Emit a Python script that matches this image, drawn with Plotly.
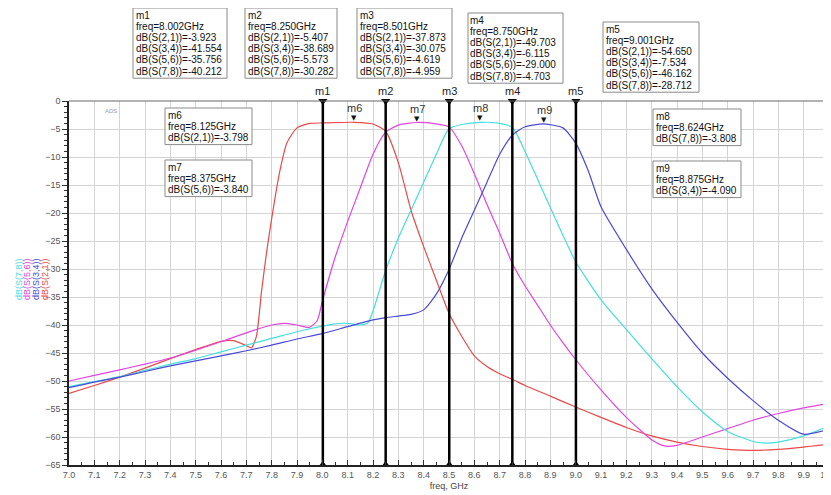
import plotly.graph_objects as go

# ---------------- data ----------------
freq_s21 = [7.0, 7.1, 7.2, 7.3, 7.4, 7.5, 7.6, 7.65, 7.7, 7.72, 7.74, 7.76, 7.78, 7.8, 7.83, 7.86,
            7.9, 7.95, 8.0, 8.125, 8.2, 8.25, 8.3, 8.35, 8.4, 8.45, 8.5, 8.55, 8.6, 8.65, 8.7, 8.75,
            8.8, 8.9, 9.0, 9.1, 9.2, 9.3, 9.4, 9.5, 9.6, 9.7, 9.8, 9.9, 10.0]
s21 = [-52.2, -50.8, -49.3, -47.7, -46.0, -44.4, -42.9, -42.8, -43.7, -44.1, -42.0, -34.0, -27.0, -21.0,
       -13.0, -7.5, -4.8, -4.0, -3.92, -3.80, -4.1, -5.4, -11.0, -19.5, -26.0, -32.0, -37.9, -42.0,
       -45.5, -47.4, -48.7, -49.7, -50.8, -52.7, -54.65, -56.5, -58.3, -59.8, -60.9, -61.7, -62.2,
       -62.4, -62.2, -61.8, -61.3]

freq_s56 = [7.0, 7.1, 7.2, 7.3, 7.4, 7.5, 7.6, 7.7, 7.8, 7.85, 7.9, 7.95, 7.98, 8.0, 8.05, 8.1, 8.15,
            8.2, 8.25, 8.3, 8.375, 8.45, 8.5, 8.55, 8.6, 8.65, 8.7, 8.75, 8.8, 8.85, 8.9, 8.95, 9.0,
            9.1, 9.2, 9.3, 9.35, 9.4, 9.5, 9.6, 9.7, 9.8, 9.9, 10.0]
s56 = [-50.0, -49.0, -48.0, -47.0, -45.9, -44.5, -43.0, -41.4, -40.0, -39.7, -40.0, -40.4, -39.2,
       -35.76, -28.0, -21.5, -15.5, -9.5, -5.57, -4.3, -3.84, -4.1, -4.62, -8.0, -13.0, -18.5, -23.6,
       -29.0, -33.0, -36.5, -40.0, -43.2, -46.16, -51.6, -56.5, -60.5, -61.6, -61.5, -60.0, -58.5,
       -57.0, -55.8, -54.8, -54.0]

freq_s78 = [7.0, 7.1, 7.2, 7.3, 7.4, 7.5, 7.6, 7.7, 7.8, 7.9, 8.0, 8.05, 8.1, 8.15, 8.18, 8.2, 8.25,
            8.3, 8.35, 8.4, 8.45, 8.5, 8.55, 8.624, 8.7, 8.75, 8.8, 8.85, 8.9, 8.95, 9.0, 9.1, 9.2,
            9.3, 9.4, 9.5, 9.6, 9.7, 9.75, 9.8, 9.9, 10.0]
s78 = [-51.0, -50.1, -49.2, -48.1, -47.0, -46.0, -44.8, -43.6, -42.4, -41.2, -40.21, -39.8, -39.7,
       -40.0, -39.6, -37.5, -30.28, -24.5, -19.5, -14.5, -9.5, -4.96, -4.2, -3.81, -4.0, -4.70,
       -9.0, -14.0, -19.0, -24.0, -28.71, -35.5, -40.8, -46.0, -51.0, -55.5, -59.0, -60.8, -61.1,
       -60.9, -59.8, -58.0]

freq_s34 = [7.0, 7.1, 7.2, 7.3, 7.4, 7.5, 7.6, 7.7, 7.8, 7.9, 8.0, 8.1, 8.2, 8.25, 8.3, 8.35, 8.4,
            8.45, 8.5, 8.55, 8.6, 8.65, 8.7, 8.75, 8.8, 8.875, 8.95, 9.0, 9.05, 9.1, 9.2, 9.3, 9.4,
            9.5, 9.6, 9.7, 9.8, 9.9, 10.0]
s34 = [-51.2, -50.2, -49.3, -48.3, -47.3, -46.4, -45.5, -44.6, -43.6, -42.5, -41.55, -40.3, -39.1,
       -38.69, -38.4, -38.1, -37.3, -34.5, -30.08, -24.5, -19.5, -14.5, -9.5, -6.12, -4.6, -4.09,
       -4.8, -7.53, -12.5, -18.9, -26.5, -33.5, -39.5, -45.0, -49.5, -53.5, -57.0, -59.5, -58.6]

# vertical markers m1..m5
vm_names = ["m1", "m2", "m3", "m4", "m5"]
vm_freq = [8.002, 8.250, 8.501, 8.750, 9.001]
vm_s21 = [-3.923, -5.407, -37.873, -49.703, -54.650]
vm_s34 = [-41.554, -38.689, -30.075, -6.115, -7.534]
vm_s56 = [-35.756, -5.573, -4.619, -29.000, -46.162]
vm_s78 = [-40.212, -30.282, -4.959, -4.703, -28.712]

# point markers m6..m9
pm_names = ["m6", "m7", "m8", "m9"]
pm_freq = [8.125, 8.375, 8.624, 8.875]
pm_val = [-3.798, -3.840, -3.808, -4.090]
pm_trace = ["dB(S(2,1))", "dB(S(5,6))", "dB(S(7,8))", "dB(S(3,4))"]

# ---------------- style / layout ----------------
vm_box_px = [(133, 8, 94), (245, 8, 92), (357, 8, 95), (468, 13, 95), (603, 22, 96)]
pm_box_px = [(165, 108, 87), (165, 160, 87), (653, 109, 88), (653, 161, 88)]
LINE_PITCH = 11.2

OFF = 8                       # page body margin of the html
W, H = 831 - OFF, 495 - OFF
PL, PR, PT, PB = 69, 829, 101, 465   # plot area in window pixels
L, T = PL - OFF, PT - OFF
R = W - (PR - OFF)
B = H - (PB - OFF)
PW, PH = PR - PL, PB - PT
col = {"dB(S(2,1))": "#e84a4a", "dB(S(5,6))": "#e045e0",
       "dB(S(3,4))": "#4a4ad6", "dB(S(7,8))": "#45dede"}
FONT = "Arial, Liberation Sans, sans-serif"
BOXFONT = dict(size=10, color="#111", family=FONT)


def px2paper(x, y):
    return (x - PL) / PW, (PB - y) / PH


fig = go.Figure()
for name, fx, fy in [("dB(S(2,1))", freq_s21, s21), ("dB(S(5,6))", freq_s56, s56),
                     ("dB(S(7,8))", freq_s78, s78), ("dB(S(3,4))", freq_s34, s34)]:
    fig.add_trace(go.Scatter(x=fx, y=fy, mode="lines", name=name,
                             line=dict(color=col[name], width=1.2, shape="spline", smoothing=0.6),
                             showlegend=False, hoverinfo="skip"))

# vertical marker lines
for f in vm_freq:
    fig.add_trace(go.Scatter(x=[f, f], y=[0, -65], mode="lines",
                             line=dict(color="black", width=2.5), showlegend=False,
                             hoverinfo="skip"))
fig.add_trace(go.Scatter(x=vm_freq, y=[0] * len(vm_freq), mode="markers", cliponaxis=False,
                         marker=dict(symbol="triangle-down", size=8, color="black"),
                         showlegend=False, hoverinfo="skip"))
fig.add_trace(go.Scatter(x=vm_freq, y=[-65] * len(vm_freq), mode="markers", cliponaxis=False,
                         marker=dict(symbol="triangle-up", size=8, color="black"),
                         showlegend=False, hoverinfo="skip"))

ann = []
shapes = [dict(type="line", xref="paper", yref="paper", x0=0, x1=1, y0=1, y1=1,
               line=dict(color="#666", width=1))]

for n, f in zip(vm_names, vm_freq):
    ann.append(dict(x=f, y=0, xref="x", yref="y", text=n, showarrow=False, yshift=10,
                    font=dict(size=11, color="#222", family=FONT)))

for n, f, v in zip(pm_names, pm_freq, pm_val):
    ann.append(dict(x=f, y=v, xref="x", yref="y", text="▼", showarrow=False, yshift=4,
                    font=dict(size=7, color="#111", family="DejaVu Sans")))
    ann.append(dict(x=f, y=v, xref="x", yref="y", text=n, showarrow=False, yshift=14,
                    font=dict(size=11, color="#333", family=FONT)))


def add_box(lines, x0, y0, w):
    h = len(lines) * LINE_PITCH + 3
    ax0, ay0 = px2paper(x0, y0)
    ax1, ay1 = px2paper(x0 + w, y0 + h)
    shapes.append(dict(type="rect", xref="paper", yref="paper", x0=ax0, x1=ax1, y0=ay1, y1=ay0,
                       line=dict(color="#8a8a8a", width=1), fillcolor="white", layer="above"))
    for i, t in enumerate(lines):
        xp, yp = px2paper(x0 + 1.5, y0 + 1.5 + (i + 0.5) * LINE_PITCH)
        ann.append(dict(x=xp, y=yp, xref="paper", yref="paper", xanchor="left",
                        yanchor="middle", text=t, showarrow=False, font=BOXFONT,
                        borderpad=0))


for i, n in enumerate(vm_names):
    lines = [n, f"freq={vm_freq[i]:.3f}GHz",
             f"dB(S(2,1))={vm_s21[i]:.3f}", f"dB(S(3,4))={vm_s34[i]:.3f}",
             f"dB(S(5,6))={vm_s56[i]:.3f}", f"dB(S(7,8))={vm_s78[i]:.3f}"]
    add_box(lines, *vm_box_px[i])
for i, n in enumerate(pm_names):
    lines = [n, f"freq={pm_freq[i]:.3f}GHz", f"{pm_trace[i]}={pm_val[i]:.3f}"]
    add_box(lines, *pm_box_px[i])

# rotated legend labels
for name, xpx in [("dB(S(7,8))", 12), ("dB(S(5,6))", 20), ("dB(S(3,4))", 29), ("dB(S(2,1))", 38)]:
    xp, yp = px2paper(xpx, 279)
    ann.append(dict(x=xp, y=yp, xref="paper", yref="paper", text=name, textangle=-90,
                    showarrow=False, font=dict(size=9, color=col[name], family=FONT)))

xp, yp = px2paper(103, 106)
ann.append(dict(x=xp, y=yp, xref="paper", yref="paper", text="ADS", showarrow=False,
                font=dict(size=6, color="#999", family=FONT)))

fig.update_layout(
    width=W, height=H, margin=dict(l=L, r=R, t=T, b=B, autoexpand=False),
    paper_bgcolor="white", plot_bgcolor="white",
    annotations=ann, shapes=shapes,
    xaxis=dict(range=[7.0, 10.0], dtick=0.1, tick0=7.0, tickformat=".1f",
               ticklabeloverflow="allow",
               showgrid=True, gridcolor="#d4d4d4", gridwidth=1,
               ticks="inside", ticklen=5, tickcolor="#333",
               minor=dict(dtick=0.05, ticks="inside", ticklen=3, tickcolor="#333", showgrid=False),
               showline=True, linecolor="#222", linewidth=1.5, mirror=False,
               zeroline=False, tickfont=dict(size=9, color="#555", family=FONT),
               title=dict(text="freq, GHz", font=dict(size=9, color="#444", family=FONT),
                          standoff=4)),
    yaxis=dict(range=[-65, 0], dtick=5, showgrid=True, gridcolor="#d4d4d4", gridwidth=1,
               ticks="outside", ticklen=5, tickcolor="#333",
               minor=dict(dtick=1, ticks="outside", ticklen=3, tickcolor="#333", showgrid=False),
               showline=True, linecolor="#222", linewidth=1.5, zeroline=False,
               tickfont=dict(size=9, color="#555", family=FONT)),
)

fig.write_html("out.html")
